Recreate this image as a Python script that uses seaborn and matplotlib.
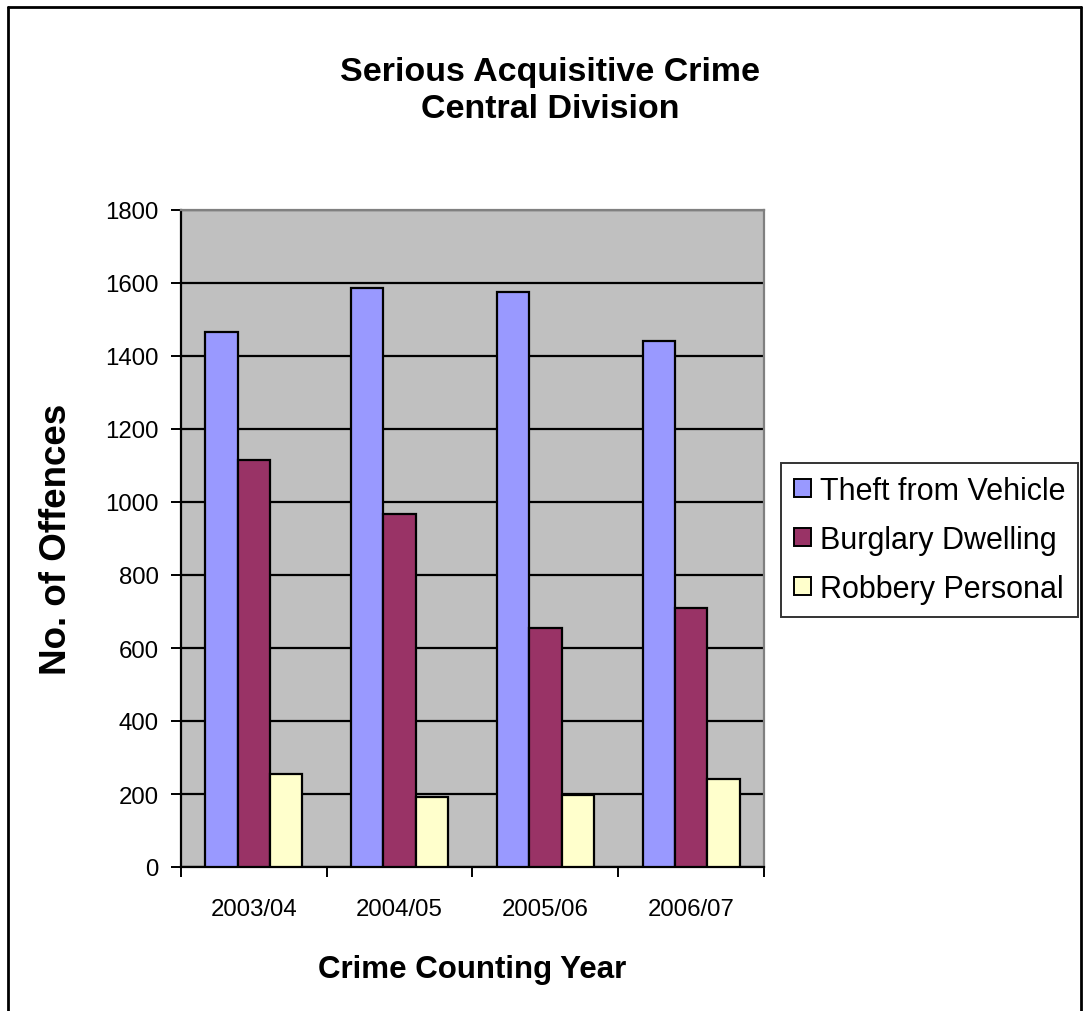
import matplotlib
matplotlib.use("Agg")
import matplotlib.pyplot as plt
from matplotlib.lines import Line2D
from matplotlib.ticker import FixedLocator, MultipleLocator
import pandas as pd
import seaborn as sns

# Offence counts per crime counting year
years = ["2003/04", "2004/05", "2005/06", "2006/07"]
series = ["Theft from Vehicle", "Burglary Dwelling", "Robbery Personal"]
theft_from_vehicle = [1465, 1586, 1574, 1440]
burglary_dwelling = [1114, 967, 654, 709]
robbery_personal = [256, 193, 198, 242]

colours = ["#9999FF", "#993366", "#FFFFCC"]

df = pd.DataFrame({
    "year": years * 3,
    "series": [series[0]] * 4 + [series[1]] * 4 + [series[2]] * 4,
    "offences": theft_from_vehicle + burglary_dwelling + robbery_personal,
})

sns.set_theme(style="white")
plt.rcParams["font.family"] = ["Liberation Sans", "DejaVu Sans"]
plt.rcParams.update({"text.color": "black", "axes.labelcolor": "black",
                     "xtick.color": "black", "ytick.color": "black"})

W, H = 1083, 1012
fig = plt.figure(figsize=(W / 100, H / 100), dpi=100)
ax = fig.add_axes([181 / W, 1 - 868 / H, (764 - 181) / W, (868 - 211) / H])
ax.set_facecolor("#C0C0C0")

sns.barplot(data=df, x="year", y="offences", hue="series", order=years,
            hue_order=series, palette=colours, width=0.666, dodge=True,
            edgecolor="black", linewidth=1.6, saturation=1, ax=ax, zorder=3)

ax.set_xlim(-0.5, len(years) - 0.5)
ax.set_ylim(0, 1800)
ax.yaxis.set_major_locator(MultipleLocator(200))
ax.grid(axis="y", color="black", linewidth=1.6, zorder=1)
ax.set_axisbelow(True)

# Category separators on the x axis, labels centred between them
ax.xaxis.set_minor_locator(FixedLocator([i - 0.5 for i in range(len(years) + 1)]))
ax.tick_params(axis="x", which="major", length=0, pad=22, labelsize=17.3, colors="black")
ax.tick_params(axis="x", which="minor", length=7, width=1.4, color="black", direction="out", bottom=True)
ax.tick_params(axis="y", which="major", length=7, width=1.4, color="black", direction="out",
               left=True, labelsize=17.3, pad=9, labelcolor="black")

for side in ("top", "right"):
    ax.spines[side].set_color("#808080")
    ax.spines[side].set_linewidth(1.6)
for side in ("left", "bottom"):
    ax.spines[side].set_color("black")
    ax.spines[side].set_linewidth(1.6)

ax.set_xlabel("Crime Counting Year", fontsize=22.5, fontweight="bold")
ax.xaxis.set_label_coords(0.5, (868 - 955) / 657)
ax.set_ylabel("No. of Offences", fontsize=26.5, fontweight="bold")
ax.yaxis.set_label_coords((74 - 181) / 583, 0.5)

fig.text(0.508, 1 - 72 / H, "Serious Acquisitive Crime", ha="center", va="center",
         fontsize=24.5, fontweight="bold")
fig.text(0.508, 1 - 110 / H, "Central Division", ha="center", va="center",
         fontsize=24.5, fontweight="bold")

ax.legend_.remove()
handles, labels = ax.get_legend_handles_labels()
leg = fig.legend(handles, labels, loc="upper left", bbox_to_anchor=(781 / W, 1 - 464 / H),
                 bbox_transform=fig.transFigure, borderaxespad=0, frameon=True,
                 fancybox=False, fontsize=22, handlelength=0.55, handleheight=0.55,
                 handletextpad=0.3, labelspacing=0.62, borderpad=0.42)
leg.get_frame().set_edgecolor("black")
leg.get_frame().set_linewidth(1.4)
for h in leg.legend_handles:
    h.set_edgecolor("black")
    h.set_linewidth(1.4)

# Outer chart border
bx0, bx1, by = 8 / W, 1081 / W, 1 - 8 / H
for xs, ys in (([bx0, bx0], [0, by]), ([bx0, bx1], [by, by]), ([bx1, bx1], [by, 0])):
    fig.add_artist(Line2D(xs, ys, transform=fig.transFigure, color="black", linewidth=2))

fig.savefig("out.png", dpi=100)
